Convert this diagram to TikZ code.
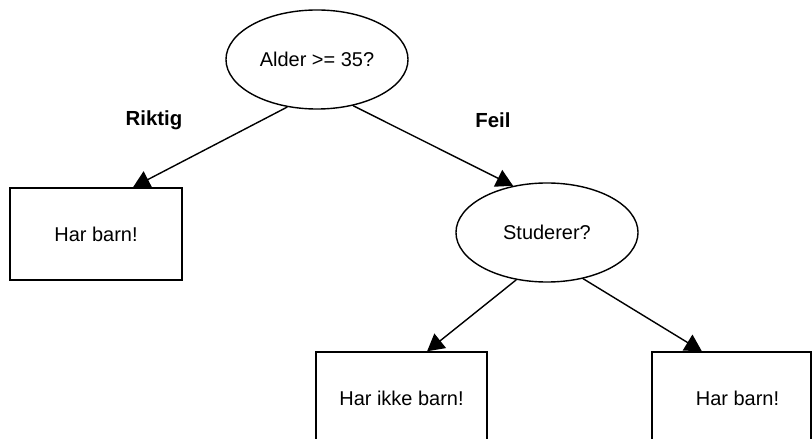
\documentclass[tikz,border=0pt]{standalone}
\usepackage{fontspec}
\setmainfont{Liberation Sans}
\usetikzlibrary{arrows.meta,shapes.geometric}

\begin{document}
\begin{tikzpicture}[x=0.025cm, y=-0.025cm, line width=1pt,
	font=\fontsize{14.2}{17}\selectfont,
	spoersmaal/.style={draw, ellipse, inner sep=0pt, minimum width=4.55cm, minimum height=2.475cm},
	svar/.style={draw, rectangle, inner sep=0pt, minimum height=2.3cm},
	grein/.style={font=\fontsize{14.5}{17}\selectfont\bfseries},
	pil/.style={-{Triangle[length=0.42cm, width=0.46cm]}}]
	%%%%% START %%%%%
	
	\clip (0, 0) rectangle (812, 439);
	
	\node[spoersmaal] (alder) at (317, 59.5) {Alder >= 35?};
	\node[spoersmaal] (studerer) at (547, 232.5) {Studerer?};
	
	\node[svar, minimum width=4.3cm] (barn1) at (96, 234) {Har barn!};
	\node[svar, minimum width=4.275cm] (ikkebarn) at (401.5, 398) {Har ikke barn!};
	\node[svar, minimum width=3.975cm] (barn2) at (731.5, 398) {\hspace{0.3cm}Har barn!};
	
	\node[grein] (riktig) at (154, 120) {Riktig};
	\node[grein] (feil) at (493, 120) {Feil};
	
	\draw[pil] (alder.238) -- ([xshift=0.925cm]barn1.north);
	\draw[pil] (alder.308) -- (studerer.126);
	\draw[pil] (studerer.237) -- ([xshift=0.64cm]ikkebarn.north);
	\draw[pil] (studerer.308) -- ([xshift=-0.74cm]barn2.north);
	
	%%%%% END %%%%%
\end{tikzpicture}
\end{document}
